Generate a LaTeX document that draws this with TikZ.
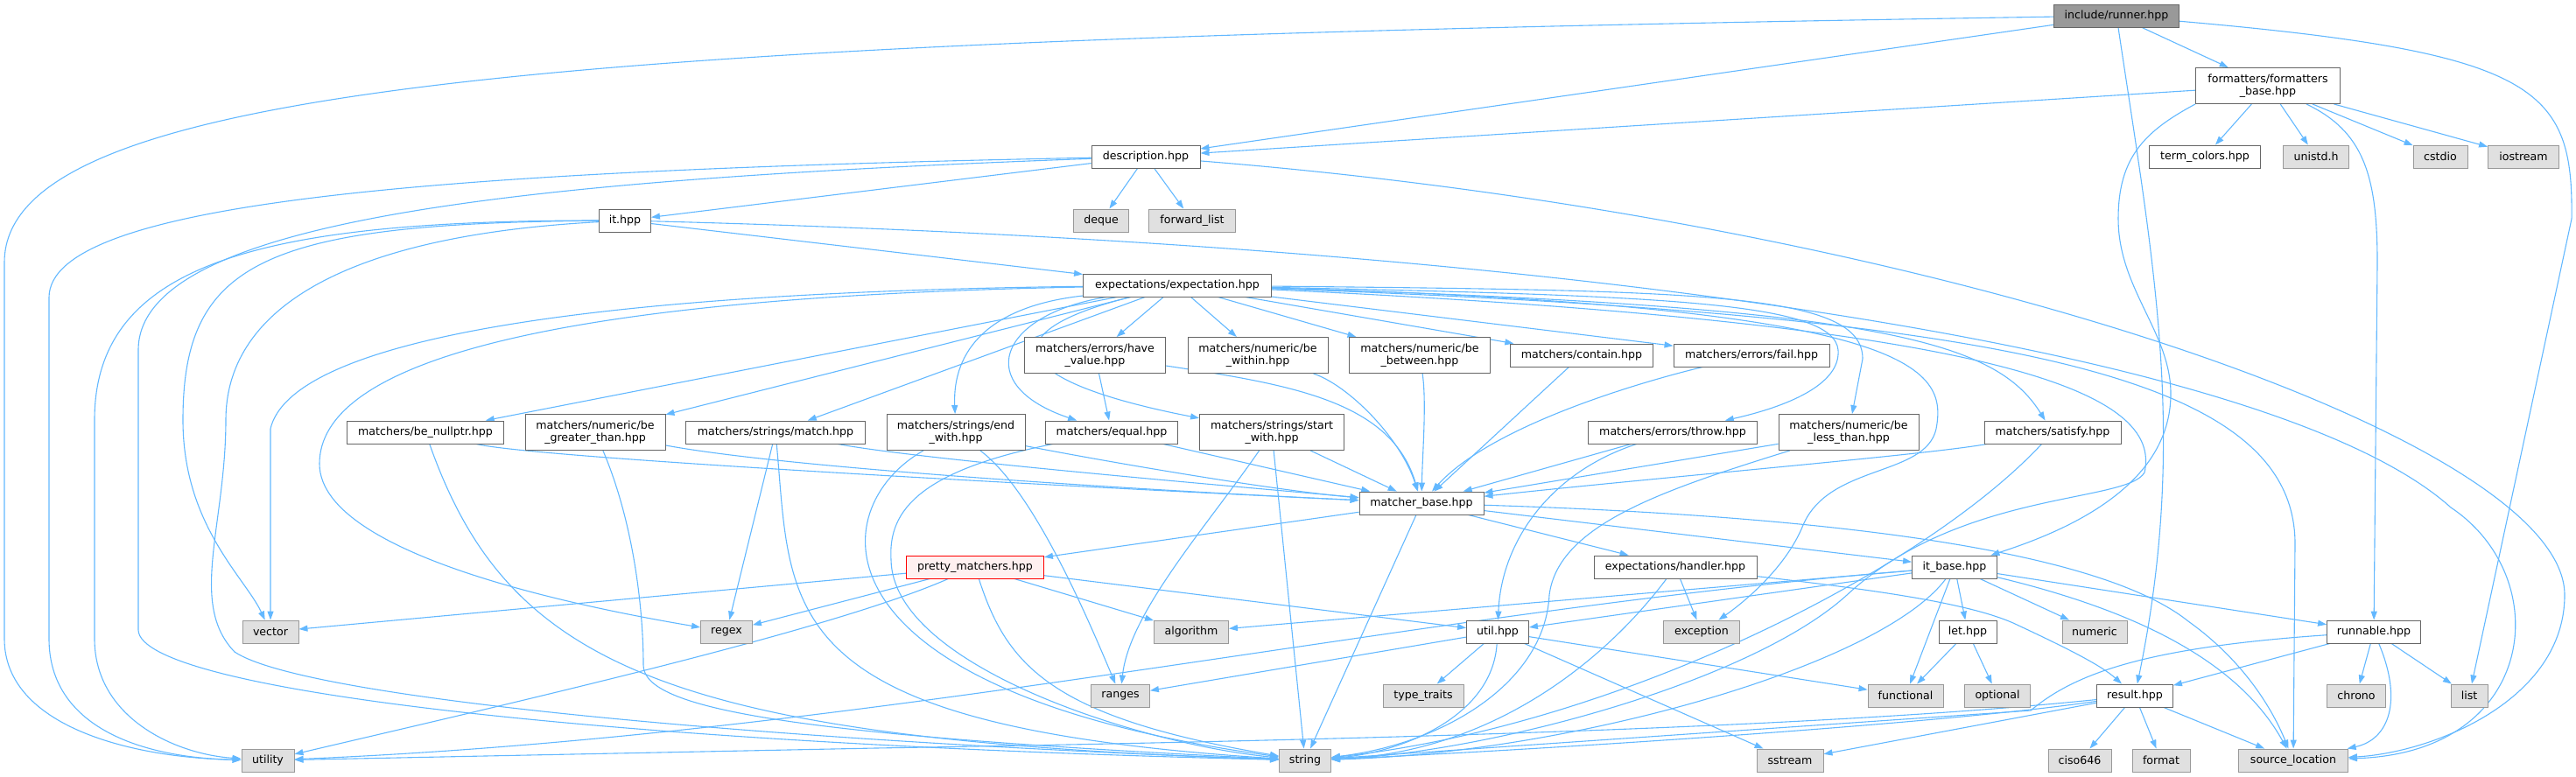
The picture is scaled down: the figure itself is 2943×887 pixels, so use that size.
\documentclass[tikz,border=0pt]{standalone}
\usepackage{fontspec}
\setmainfont{DejaVu Sans}
\usepackage{tikz}
\usetikzlibrary{arrows.meta, backgrounds}

\definecolor{deplink}{HTML}{63B8FF}
\definecolor{boxline}{HTML}{666666}
\definecolor{sysfill}{HTML}{E0E0E0}
\definecolor{sysline}{HTML}{999999}
\definecolor{rootfill}{HTML}{999999}
\definecolor{warnfill}{HTML}{FFF0F0}

\begin{document}
\begin{tikzpicture}[x=1pt, y=-1pt, >={Triangle[length=10pt, width=7pt]},
  hdr/.style={draw=boxline, fill=white, line width=0.9pt, inner sep=1pt,
    minimum height=26pt, minimum width=#1pt, align=center,
    font=\fontsize{12.6}{14.5}\selectfont},
  sys/.style={hdr=#1, draw=sysline, fill=sysfill},
  root/.style={hdr=#1, fill=rootfill},
  warn/.style={hdr=#1, draw=red, fill=warnfill},
  tall/.style={minimum height=41pt},
  dep/.style={->, draw=deplink, line width=1.1pt}]
  \useasboundingbox (0,0) rectangle (2943,887);

  % Top: runner and formatters
  \node[root=143] (runner) at (2418,18) {include/runner.hpp};
  \node[hdr=165, tall] (fbase) at (2591,98) {formatters/formatters\\\_base.hpp};
  \node[hdr=127] (termc) at (2519,179) {term\_colors.hpp};
  \node[sys=75] (unistd) at (2646,179) {unistd.h};
  \node[sys=62] (cstdio) at (2788,179) {cstdio};
  \node[sys=81] (iostream) at (2883,179) {iostream};

  % Description and it
  \node[hdr=124] (desc) at (1309,179) {description.hpp};
  \node[sys=63] (deque) at (1258,252) {deque};
  \node[sys=99] (fwdlist) at (1362,252) {forward\_list};
  \node[hdr=59] (ithpp) at (714,252) {it.hpp};
  \node[hdr=215] (expect) at (1345,326) {expectations/expectation.hpp};

  % Matchers, upper row
  \node[hdr=161, tall] (havevalue) at (1251,406) {matchers/errors/have\\\_value.hpp};
  \node[hdr=160, tall] (bewithin) at (1437,406) {matchers/numeric/be\\\_within.hpp};
  \node[hdr=161, tall] (bebetween) at (1622,406) {matchers/numeric/be\\\_between.hpp};
  \node[hdr=163] (contain) at (1807,406) {matchers/contain.hpp};
  \node[hdr=178] (fail) at (2001,406) {matchers/errors/fail.hpp};

  % Matchers, lower row
  \node[hdr=179] (nullptr) at (486,494) {matchers/be\_nullptr.hpp};
  \node[hdr=160, tall] (greater) at (680,494) {matchers/numeric/be\\\_greater\_than.hpp};
  \node[hdr=205] (match) at (886,494) {matchers/strings/match.hpp};
  \node[hdr=158, tall] (endwith) at (1092,494) {matchers/strings/end\\\_with.hpp};
  \node[hdr=151] (equal) at (1270,494) {matchers/equal.hpp};
  \node[hdr=165, tall] (startwith) at (1453,494) {matchers/strings/start\\\_with.hpp};
  \node[hdr=193] (throw) at (1911,494) {matchers/errors/throw.hpp};
  \node[hdr=160, tall] (lessthan) at (2112,494) {matchers/numeric/be\\\_less\_than.hpp};
  \node[hdr=156] (satisfy) at (2345,494) {matchers/satisfy.hpp};

  % Base layer
  \node[hdr=142] (mbase) at (1624,575) {matcher\_base.hpp};
  \node[warn=157] (pretty) at (1114,648) {pretty\_matchers.hpp};
  \node[hdr=186] (handler) at (1914,648) {expectations/handler.hpp};
  \node[hdr=97] (itbase) at (2233,648) {it\_base.hpp};
  \node[sys=64] (vector) at (309,722) {vector};
  \node[sys=59] (regex) at (830,722) {regex};
  \node[sys=85] (algorithm) at (1361,722) {algorithm};
  \node[hdr=71] (util) at (1711,722) {util.hpp};
  \node[sys=87] (exception) at (1944,722) {exception};
  \node[hdr=66] (let) at (2248,722) {let.hpp};
  \node[sys=74] (numeric) at (2393,722) {numeric};
  \node[hdr=107] (runnable) at (2712,722) {runnable.hpp};
  \node[sys=67] (ranges) at (1280,795) {ranges};
  \node[sys=92] (typetraits) at (1626,795) {type\_traits};
  \node[sys=86] (functional) at (2177,795) {functional};
  \node[sys=75] (optional) at (2282,795) {optional};
  \node[hdr=87] (result) at (2439,795) {result.hpp};
  \node[sys=67] (chrono) at (2692,795) {chrono};
  \node[sys=42] (list) at (2821,795) {list};
  \node[sys=60] (utility) at (306,869) {utility};
  \node[sys=59] (string) at (1491,869) {string};
  \node[sys=76] (sstream) at (2045,869) {sstream};
  \node[sys=72] (ciso646) at (2376,869) {ciso646};
  \node[sys=66] (format) at (2469,869) {format};
  \node[sys=125] (srcloc) at (2620,869) {source\_location};

  \begin{scope}[on background layer]
  % runner.hpp
  \draw[dep] (runner) .. controls (700,45) and (5,90) .. (5,300) -- (5,730)
    .. controls (5,830) and (150,866) .. (utility);
  \draw[dep] (runner) -- (desc);
  \draw[dep] (runner) -- (fbase);
  \draw[dep] (runner) .. controls (2460,300) and (2500,500) .. (result);
  \draw[dep] (runner) .. controls (2900,60) and (2940,100) .. (2938,250) -- (list);

  % formatters_base.hpp
  \draw[dep] (fbase) -- (desc);
  \draw[dep] (fbase) -- (termc);
  \draw[dep] (fbase) -- (unistd);
  \draw[dep] (fbase) -- (cstdio);
  \draw[dep] (fbase) -- (iostream);
  \draw[dep] (fbase) .. controls (2700,150) and (2716,200) .. (2716,300) -- (runnable);
  \draw[dep] (fbase.south west) .. controls (2450,150) and (2420,180) .. (2420,250)
    .. controls (2420,330) and (2480,380) .. (2480,450)
    .. controls (2480,560) and (2350,610) .. (itbase);

  % description.hpp
  \draw[dep] (desc) -- (ithpp);
  \draw[dep] (desc) -- (deque);
  \draw[dep] (desc) -- (fwdlist);
  \draw[dep] (desc) .. controls (500,195) and (56,230) .. (56,340) -- (56,730)
    .. controls (56,830) and (160,866) .. (utility);
  \draw[dep] (desc) .. controls (600,205) and (158,250) .. (158,400) -- (158,720)
    .. controls (160,790) and (700,850) .. (string);
  \draw[dep] (desc) .. controls (2200,250) and (2930,500) .. (2930,680)
    .. controls (2930,800) and (2780,860) .. (srcloc);

  % it.hpp
  \draw[dep] (ithpp) -- (expect);
  \draw[dep] (ithpp) .. controls (300,252) and (108,300) .. (108,480) -- (108,730)
    .. controls (108,820) and (200,862) .. (utility);
  \draw[dep] (ithpp) .. controls (300,255) and (209,300) .. (209,480)
    .. controls (209,600) and (280,660) .. (vector);
  \draw[dep] (ithpp) .. controls (380,270) and (258,360) .. (258,480)
    .. controls (258,600) and (215,690) .. (268,745)
    .. controls (350,800) and (900,848) .. (string);
  \draw[dep] (ithpp) .. controls (1800,280) and (2600,400) .. (2800,580)
    .. controls (2920,660) and (2900,860) .. (srcloc);

  % expectation.hpp
  \draw[dep] (expect) .. controls (600,335) and (330,400) .. (309,490) -- (vector);
  \draw[dep] (expect) .. controls (600,340) and (365,420) .. (365,530)
    .. controls (365,640) and (700,700) .. (regex);
  \draw[dep] (expect) -- (nullptr);
  \draw[dep] (expect) -- (greater);
  \draw[dep] (expect) -- (match);
  \draw[dep] (expect) .. controls (1130,350) and (1088,400) .. (endwith);
  \draw[dep] (expect) .. controls (1140,360) and (1110,440) .. (equal);
  \draw[dep] (expect) .. controls (1130,380) and (1150,435) .. (startwith);
  \draw[dep] (expect) -- (havevalue);
  \draw[dep] (expect) -- (bewithin);
  \draw[dep] (expect) -- (bebetween);
  \draw[dep] (expect) -- (contain);
  \draw[dep] (expect) -- (fail);
  \draw[dep] (expect) .. controls (1900,338) and (2095,345) .. (2100,400)
    .. controls (2103,440) and (2040,465) .. (throw);
  \draw[dep] (expect) .. controls (1950,332) and (2128,335) .. (2128,410) -- (lessthan);
  \draw[dep] (expect) .. controls (2150,350) and (2280,390) .. (satisfy);
  \draw[dep] (expect) .. controls (2190,350) and (2225,420) .. (2212,490)
    .. controls (2200,545) and (2090,530) .. (2060,600)
    .. controls (2040,650) and (1990,690) .. (exception);
  \draw[dep] (expect) .. controls (2300,370) and (2470,450) .. (2450,540)
    .. controls (2430,575) and (2240,560) .. (2110,680)
    .. controls (2000,780) and (1700,860) .. (string);
  \draw[dep] (expect) .. controls (2300,360) and (2620,430) .. (2622,620) -- (srcloc);

  % matcher_base.hpp
  \draw[dep] (mbase) -- (pretty);
  \draw[dep] (mbase) -- (string);
  \draw[dep] (mbase) -- (handler);
  \draw[dep] (mbase) -- (itbase);
  \draw[dep] (mbase) .. controls (2100,590) and (2400,630) .. (2500,710)
    .. controls (2570,760) and (2600,820) .. (srcloc);

  % matchers into matcher_base
  \draw[dep] (nullptr) .. controls (620,525) and (1300,560) .. (mbase);
  \draw[dep] (greater) .. controls (900,535) and (1300,560) .. (mbase);
  \draw[dep] (match) .. controls (1050,525) and (1400,555) .. (mbase);
  \draw[dep] (endwith) .. controls (1250,525) and (1450,560) .. (mbase);
  \draw[dep] (equal) -- (mbase);
  \draw[dep] (startwith) -- (mbase);
  \draw[dep] (havevalue) .. controls (1480,440) and (1590,460) .. (mbase);
  \draw[dep] (bewithin) .. controls (1540,440) and (1600,500) .. (mbase);
  \draw[dep] (bebetween) .. controls (1630,460) and (1625,520) .. (mbase);
  \draw[dep] (contain) -- (mbase);
  \draw[dep] (fail) .. controls (1860,440) and (1700,490) .. (mbase);
  \draw[dep] (throw) -- (mbase);
  \draw[dep] (lessthan) -- (mbase);
  \draw[dep] (satisfy) .. controls (2200,520) and (1900,545) .. (mbase);

  % other matcher includes
  \draw[dep] (nullptr) .. controls (580,760) and (760,845) .. (string);
  \draw[dep] (greater) .. controls (725,600) and (735,700) .. (735,760)
    .. controls (735,810) and (900,840) .. (string);
  \draw[dep] (match) -- (regex);
  \draw[dep] (match) .. controls (905,700) and (880,830) .. (string);
  \draw[dep] (endwith) .. controls (1180,560) and (1240,700) .. (ranges);
  \draw[dep] (endwith) .. controls (940,580) and (920,790) .. (string);
  \draw[dep] (equal) .. controls (1040,540) and (1015,590) .. (1018,640)
    .. controls (1020,760) and (1300,850) .. (string);
  \draw[dep] (havevalue) -- (equal);
  \draw[dep] (startwith) .. controls (1380,600) and (1290,700) .. (ranges);
  \draw[dep] (startwith) -- (string);
  \draw[dep] (throw) .. controls (1770,540) and (1715,620) .. (util);
  \draw[dep] (lessthan) .. controls (1900,560) and (1780,600) .. (1770,680)
    .. controls (1765,780) and (1650,850) .. (string);
  \draw[dep] (satisfy) .. controls (2200,650) and (1850,830) .. (string);

  % pretty_matchers.hpp
  \draw[dep] (pretty) -- (vector);
  \draw[dep] (pretty) -- (regex);
  \draw[dep] (pretty) .. controls (950,720) and (600,800) .. (utility);
  \draw[dep] (pretty) -- (algorithm);
  \draw[dep] (pretty) -- (util);
  \draw[dep] (pretty) .. controls (1150,760) and (1200,820) .. (string);

  % handler.hpp
  \draw[dep] (handler) -- (exception);
  \draw[dep] (handler) .. controls (2150,675) and (2250,690) .. (2300,712)
    .. controls (2360,740) and (2400,760) .. (result);
  \draw[dep] (handler) .. controls (1830,760) and (1700,860) .. (string);

  % it_base.hpp
  \draw[dep] (itbase) -- (algorithm);
  \draw[dep] (itbase) -- (util);
  \draw[dep] (itbase) .. controls (1600,700) and (1000,840) .. (utility);
  \draw[dep] (itbase) .. controls (2150,760) and (1800,860) .. (string);
  \draw[dep] (itbase) -- (functional);
  \draw[dep] (itbase) -- (let);
  \draw[dep] (itbase) -- (numeric);
  \draw[dep] (itbase) -- (runnable);
  \draw[dep] (itbase) .. controls (2450,700) and (2560,760) .. (srcloc);

  % util.hpp and let.hpp
  \draw[dep] (util) -- (ranges);
  \draw[dep] (util) -- (typetraits);
  \draw[dep] (util) .. controls (1705,820) and (1600,860) .. (string);
  \draw[dep] (util) -- (functional);
  \draw[dep] (util) -- (sstream);
  \draw[dep] (let) -- (functional);
  \draw[dep] (let) -- (optional);

  % runnable.hpp
  \draw[dep] (runnable) -- (result);
  \draw[dep] (runnable) -- (chrono);
  \draw[dep] (runnable) -- (list);
  \draw[dep] (runnable) .. controls (2745,800) and (2730,845) .. (srcloc);
  \draw[dep] (runnable) .. controls (2450,740) and (2370,770) .. (2320,812) -- (string);

  % result.hpp
  \draw[dep] (result) .. controls (2200,830) and (1700,860) .. (string);
  \draw[dep] (result) .. controls (2100,830) and (1600,845) .. (1000,855) -- (utility);
  \draw[dep] (result) -- (sstream);
  \draw[dep] (result) -- (ciso646);
  \draw[dep] (result) -- (format);
  \draw[dep] (result) -- (srcloc);
  \end{scope}
\end{tikzpicture}
\end{document}
